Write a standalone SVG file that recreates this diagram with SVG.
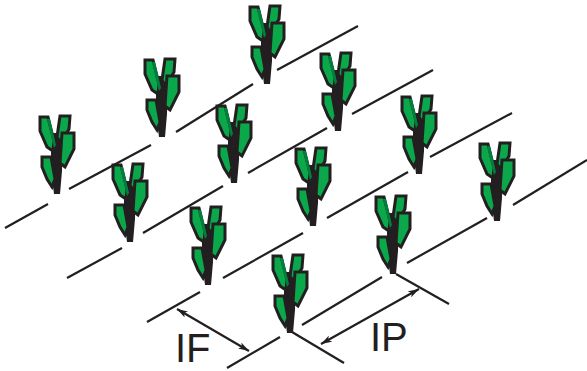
<svg xmlns="http://www.w3.org/2000/svg" xmlns:xlink="http://www.w3.org/1999/xlink" width="587" height="371" viewBox="0 0 587 371">
<style>
.ln{stroke:#231f20;stroke-width:2.2;fill:none;stroke-linecap:butt}
.lf{fill:#0aa84a;stroke:#231f20;stroke-width:3;stroke-linejoin:miter}
.st{fill:#231f20}
.dg{fill:#00803d}
.lbl{font-family:"Liberation Sans",Arial,sans-serif;font-size:40px;fill:#231f20}
</style>
<defs>
<marker id="arr" viewBox="0 0 11 7" refX="11" refY="3.5" markerWidth="11" markerHeight="7" markerUnits="userSpaceOnUse" orient="auto-start-reverse">
<path d="M0,0 L11,3.5 L0,7 L3,3.5 Z" fill="#231f20"/>
</marker>
<g id="plant">
<path class="st" d="M-6,-60 L6,-60 L5,-22 L3,1 L-3,1 L-6,-22 Z"/>
<path class="lf" d="M-17,-76 L-9,-76 L-3,-52 L-4,-42 L-10,-46 L-17,-62 Z"/>
<path class="dg" d="M-10,-74 L-7,-74 L-1,-48 L-3,-45 Z"/>
<path class="lf" d="M3,-77 L13,-77 L12,-64 L4,-50 L0,-56 Z"/>
<path class="lf" d="M5,-60 L17,-60 L17,-44 L8,-26 L3,-30 Z"/>
<path class="lf" d="M-15,-36 L-6,-36 L-2,-14 L-5,-6 L-10,-14 L-15,-26 Z"/>
</g>
</defs>
<rect width="587" height="371" fill="#ffffff"/>
<g id="connectors">
<line class="ln" x1="5" y1="228" x2="48" y2="204"/>
<line class="ln" x1="69" y1="189" x2="151" y2="145"/>
<line class="ln" x1="176" y1="132" x2="253" y2="84"/>
<line class="ln" x1="277" y1="70" x2="358" y2="26"/>
<line class="ln" x1="67" y1="278" x2="122" y2="248"/>
<line class="ln" x1="143" y1="233" x2="223" y2="186"/>
<line class="ln" x1="248" y1="173" x2="327" y2="128"/>
<line class="ln" x1="352" y1="114" x2="433" y2="70"/>
<line class="ln" x1="147" y1="322" x2="200" y2="292"/>
<line class="ln" x1="223" y1="278" x2="303" y2="233"/>
<line class="ln" x1="327" y1="218" x2="408" y2="172"/>
<line class="ln" x1="430" y1="157" x2="512" y2="113"/>
<line class="ln" x1="227" y1="368" x2="280" y2="337"/>
<line class="ln" x1="302" y1="325" x2="382" y2="277"/>
<line class="ln" x1="407" y1="263" x2="487" y2="218"/>
<line class="ln" x1="513" y1="205" x2="587" y2="160"/>
<line class="ln" x1="292" y1="332" x2="344" y2="363"/>
<line class="ln" x1="396" y1="274" x2="449" y2="304"/>
<line class="ln" x1="177" y1="309" x2="249" y2="351" marker-start="url(#arr)" marker-end="url(#arr)"/>
<line class="ln" x1="321" y1="344" x2="419" y2="289" marker-start="url(#arr)" marker-end="url(#arr)"/>
</g>
<g id="plant1"><use xlink:href="#plant" href="#plant" x="267" y="83"/></g>
<g id="plant2"><use xlink:href="#plant" href="#plant" x="162" y="136"/></g>
<g id="plant3"><use xlink:href="#plant" href="#plant" x="338" y="130"/></g>
<g id="plant4"><use xlink:href="#plant" href="#plant" x="57" y="193"/></g>
<g id="plant5"><use xlink:href="#plant" href="#plant" x="234" y="182"/></g>
<g id="plant6"><use xlink:href="#plant" href="#plant" x="419" y="173"/></g>
<g id="plant7"><use xlink:href="#plant" href="#plant" x="130" y="241"/></g>
<g id="plant8"><use xlink:href="#plant" href="#plant" x="313" y="225"/></g>
<g id="plant9"><use xlink:href="#plant" href="#plant" x="497" y="220"/></g>
<g id="plant10"><use xlink:href="#plant" href="#plant" x="208" y="284"/></g>
<g id="plant11"><use xlink:href="#plant" href="#plant" x="393" y="273"/></g>
<g id="plant12"><use xlink:href="#plant" href="#plant" x="290" y="332"/></g>
<g id="labels">
<text class="lbl" x="175" y="362">IF</text>
<text class="lbl" x="370" y="351">IP</text>
</g>
</svg>
